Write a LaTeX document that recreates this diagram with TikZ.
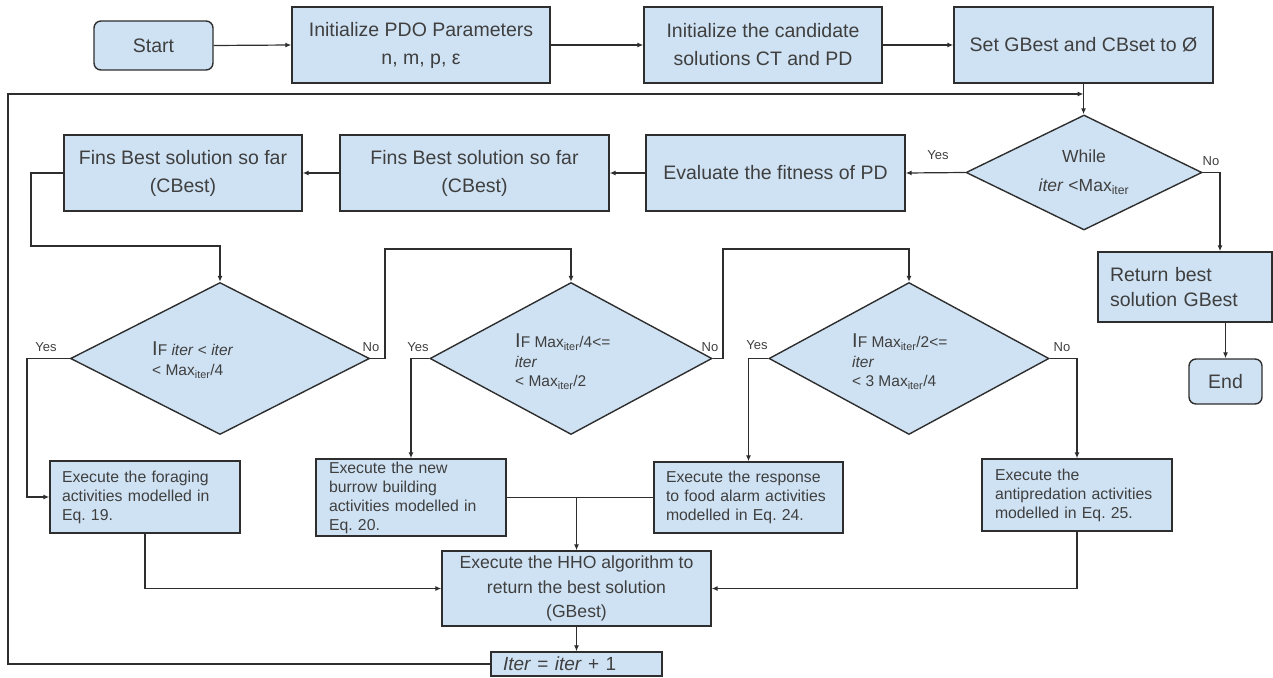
\documentclass[tikz,border=0pt]{standalone}
\usepackage{fontspec}
\setmainfont{Liberation Sans}
\usetikzlibrary{arrows.meta,shapes.geometric}
\definecolor{boxc}{HTML}{CFE2F3}
\definecolor{linec}{HTML}{2E2E2E}
\definecolor{txtc}{HTML}{3F3F3F}
\newcommand\fBig{\fontsize{19.5}{28}\selectfont}
\newcommand\fRet{\fontsize{19.5}{25}\selectfont}
\newcommand\fHho{\fontsize{17.6}{24.5}\selectfont}
\newcommand\fExe{\fontsize{15.8}{19}\selectfont}
\newcommand\fDia{\fontsize{15.5}{19.5}\selectfont}
\newcommand\fWhile{\fontsize{17.5}{29}\selectfont}
\newcommand\fLab{\fontsize{13}{15}\selectfont}
\newcommand\fIter{\fontsize{19}{22}\selectfont}
\newcommand\bigI{{\fontsize{20}{20}\selectfont I}}
\frenchspacing
\begin{document}
\begin{tikzpicture}[x=1pt,y=-1pt,
 every node/.style={text=txtc},
 box/.style={draw=linec, fill=boxc, line width=1.4pt, inner sep=0pt, align=center, font=\fBig},
 rbox/.style={box, rounded corners=7pt},
 lbox/.style={draw=linec, fill=boxc, line width=1.4pt, inner xsep=12pt, inner ysep=0pt, align=left, font=\fExe},
 dia/.style={draw=linec, fill=boxc, line width=1.4pt, diamond, inner sep=0pt},
 dtext/.style={anchor=west, align=left, font=\fDia, inner sep=0pt},
 lab/.style={font=\fLab, inner sep=0pt},
 arr/.style={draw=linec, line width=1.2pt, -{Latex[length=6pt,width=5pt]}},
 ln/.style={draw=linec, line width=1.2pt}]
\useasboundingbox (0,0) rectangle (1273,677);

% top row
\node[rbox, minimum width=119pt, minimum height=49pt] (start) at (153.5,45.5) {Start};
\node[box, minimum width=258pt, minimum height=76pt] (pdo) at (421,45) {Initialize PDO Parameters\\n, m, p, ε};
\node[box, minimum width=238pt, minimum height=76pt] (cand) at (763,45) {Initialize the candidate\\solutions CT and PD};
\node[box, minimum width=259pt, minimum height=76pt] (setg) at (1083.5,45) {Set GBest and CBset to Ø};

% second row
\node[dia, minimum width=236pt, minimum height=115pt] (while) at (1084,172.5) {};
\node[font=\fWhile, align=center, inner sep=0pt] (whilet) at (1084,172) {While\\\textit{iter} <Max\textsubscript{iter}};
\node[box, minimum width=259pt, minimum height=76pt] (eval) at (775.5,173) {Evaluate the fitness of PD};
\node[box, minimum width=269pt, minimum height=76pt] (fins2) at (474.5,173) {Fins Best solution so far\\(CBest)};
\node[box, minimum width=238pt, minimum height=76pt] (fins1) at (183,173) {Fins Best solution so far\\(CBest)};

\node[lbox, font=\fRet, text width=150pt, minimum height=70pt] (ret) at (1185,287) {Return best\\solution GBest};
\node[rbox, minimum width=73pt, minimum height=45pt] (endn) at (1225.5,381.5) {End};

% decisions
\node[dia, minimum width=299pt, minimum height=152pt] (d1) at (220,358.5) {};
\node[dia, minimum width=282pt, minimum height=152pt] (d2) at (571,358.5) {};
\node[dia, minimum width=280pt, minimum height=152pt] (d3) at (909,358.5) {};
\node[dtext] (d1t) at (152,360) {\bigI F \textit{iter} < \textit{iter}\\< Max\textsubscript{iter}/4};
\node[dtext] (d2t) at (515,362) {\bigI F Max\textsubscript{iter}/4<=\\\textit{iter}\\< Max\textsubscript{iter}/2};
\node[dtext] (d3t) at (852,362) {\bigI F Max\textsubscript{iter}/2<=\\\textit{iter}\\< 3 Max\textsubscript{iter}/4};

% execute boxes
\node[lbox, text width=166pt, minimum height=72pt] (forage) at (145,497) {Execute the foraging\\activities modelled in\\Eq. 19.};
\node[lbox, text width=164pt, inner xsep=13pt, minimum height=77pt] (burrow) at (411,497.5) {Execute the new\\burrow building\\activities modelled in\\Eq. 20.};
\node[lbox, text width=165pt, minimum height=71pt] (resp) at (748.5,497.5) {Execute the response\\to food alarm activities\\modelled in Eq. 24.};
\node[lbox, text width=164pt, inner xsep=13pt, minimum height=72pt] (anti) at (1077,495) {Execute the\\antipredation activities\\modelled in Eq. 25.};
\node[box, font=\fHho, minimum width=269pt, minimum height=75pt] (hho) at (576.5,588.5) {Execute the HHO algorithm to\\return the best solution\\(GBest)};
\node[lbox, font=\fIter, text width=147pt, minimum height=24pt] (iter) at (576.5,664) {\textit{Iter} = \textit{iter} + 1};

% connectors
\draw[arr] (start.east) -- (pdo.west);
\draw[arr] (pdo.east) -- (cand.west);
\draw[arr] (cand.east) -- (setg.west);
\draw[arr] (setg.south) -- (setg.south |- while.north);
\draw[arr] (while.west) -- (eval.east);
\draw[arr] (eval.west) -- (fins2.east);
\draw[arr] (fins2.west) -- (fins1.east);
\draw[arr] (fins1.west) -- (31,173) -- (31,246) -| (d1.north);
\draw[arr] (d1.east) -- (385,358.5) -- (385,249) -| (d2.north);
\draw[arr] (d2.east) -- (723,358.5) -- (723,249) -| (d3.north);
\draw[arr] (d1.west) -- (27,358.5) |- (forage.west);
\draw[arr] (d2.west) -| (burrow.north);
\draw[arr] (d3.west) -| (resp.north);
\draw[arr] (d3.east) -| (anti.north);
\draw[arr] (while.east) -| ([xshift=35pt]ret.north);
\draw[arr] (ret.south -| endn.north) -- (endn.north);
\draw[arr] (forage.south) |- (hho.west);
\draw[arr] (anti.south) |- (hho.east);
\draw[ln] (burrow.east) -- (resp.west);
\draw[arr] (hho.north |- burrow.east) -- (hho.north);
\draw[arr] (hho.south) -- (iter.north);
\coordinate (lp) at (8,94);
\draw[arr] (iter.west) -| (lp) -- (setg.south |- lp);

% labels
\node[lab] (y0) at (938,155) {Yes};
\node[lab] (n0) at (1211,161) {No};
\node[lab] (y1) at (46,347) {Yes};
\node[lab] (n1) at (371,347) {No};
\node[lab] (y2) at (418,347) {Yes};
\node[lab] (n2) at (710,347) {No};
\node[lab] (y3) at (757,345) {Yes};
\node[lab] (n3) at (1062,347) {No};
\end{tikzpicture}
\end{document}
